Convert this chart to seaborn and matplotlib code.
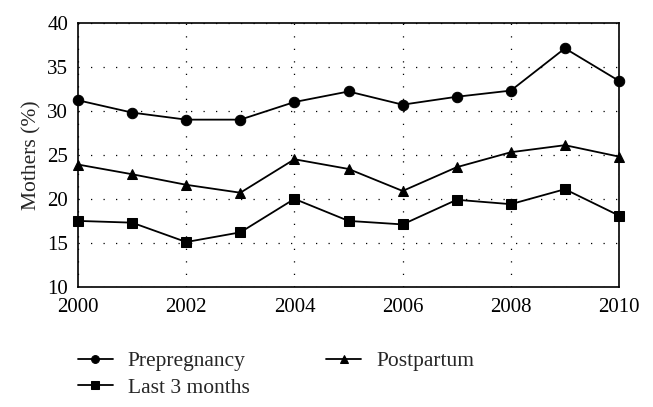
import numpy as np
import pandas as pd
import matplotlib
matplotlib.use('Agg')
import matplotlib.pyplot as plt
import seaborn as sns

years = list(range(2000, 2011))
prepregnancy = [31.2, 29.8, 29.0, 29.0, 31.0, 32.2, 30.7, 31.6, 32.3, 37.1, 33.4]
postpartum = [23.9, 22.8, 21.6, 20.7, 24.5, 23.4, 20.9, 23.6, 25.3, 26.1, 24.8]
last3 = [17.5, 17.3, 15.1, 16.2, 20.0, 17.5, 17.1, 19.9, 19.4, 21.1, 18.1]

series_order = ['Prepregnancy', 'Last 3 months', 'Postpartum']

df = pd.concat([
    pd.DataFrame({'year': years, 'value': prepregnancy, 'series': 'Prepregnancy'}),
    pd.DataFrame({'year': years, 'value': last3, 'series': 'Last 3 months'}),
    pd.DataFrame({'year': years, 'value': postpartum, 'series': 'Postpartum'}),
])

sns.set_theme(style="ticks")
plt.rcParams['font.family'] = ['Liberation Serif', 'DejaVu Serif']

fig = plt.figure(figsize=(6.53, 4.07), dpi=100)
ax = fig.add_axes([0.1195, 0.295, 0.8285, 0.649])

sns.lineplot(
    data=df, x='year', y='value', hue='series', style='series',
    hue_order=series_order, style_order=series_order,
    palette=['black'] * 3, markers={'Prepregnancy': 'o', 'Last 3 months': 's', 'Postpartum': '^'},
    dashes=False, markersize=7.5, linewidth=1.3, markeredgecolor='black',
    ax=ax, legend=True
)
for ln in ax.lines:
    ln.set_clip_on(False)
    ln.set_zorder(5)

ax.set_xlim(2000, 2010)
ax.set_ylim(10, 40)
ax.set_xticks(range(2000, 2011, 2))
ax.set_yticks(range(10, 41, 5))
ax.grid(True, linestyle=(0, (1, 9)), color='black', linewidth=0.9)
ax.tick_params(axis='both', labelsize=15, length=0, colors='black')
ax.tick_params(axis='x', pad=8)
ax.tick_params(axis='y', pad=7)
ax.set_xlabel('')
ax.set_ylabel('Mothers (%)', fontsize=15.5, labelpad=4)
for s in ax.spines.values():
    s.set_linewidth(1.2)
    s.set_color('black')

handles, labels = ax.get_legend_handles_labels()
ax.legend(handles, labels, ncol=2, frameon=False, fontsize=15.5,
          loc='upper left', bbox_to_anchor=(0.119, 0.137), bbox_transform=fig.transFigure,
          handlelength=1.63, columnspacing=3.55, labelspacing=0.3, handletextpad=0.7,
          borderpad=0, borderaxespad=0, markerscale=0.75)

fig.savefig('out.png', dpi=100)
